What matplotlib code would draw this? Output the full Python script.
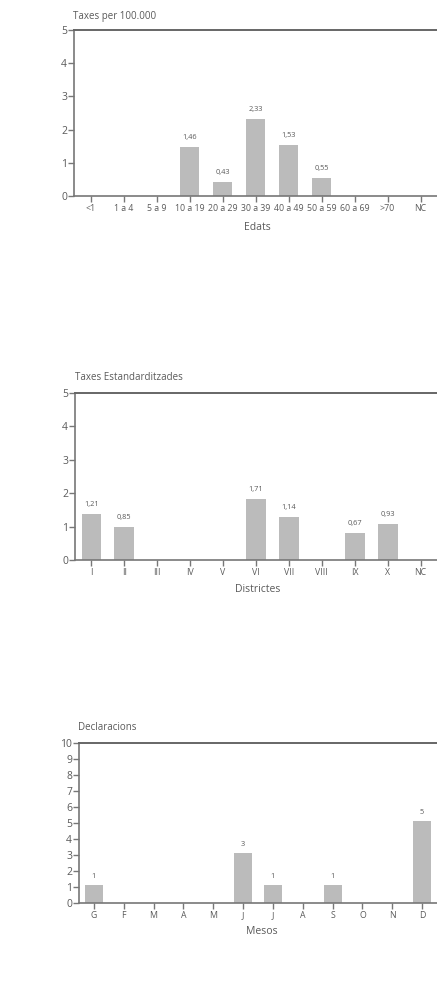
import matplotlib.pyplot as plt
import numpy as np

plt.rcParams['font.family'] = ['Open Sans', 'DejaVu Sans']

edats = ['<1', '1 a 4', '5 a 9', '10 a 19', '20 a 29', '30 a 39', '40 a 49', '50 a 59', '60 a 69', '>70', 'NC']
taxes_edat = [0, 0, 0, 1.47, 0.43, 2.33, 1.53, 0.55, 0, 0, 0]
labels_edat = ['', '', '', '1,46', '0,43', '2,33', '1,53', '0,55', '', '', '']

districtes = ['I', 'II', 'III', 'IV', 'V', 'VI', 'VII', 'VIII', 'IX', 'X', 'NC']
taxes_districte = [1.37, 1.0, 0, 0, 0, 1.83, 1.3, 0, 0.8, 1.07, 0]
labels_districte = ['1,21', '0,85', '', '', '', '1,71', '1,14', '', '0,67', '0,93', '']

mesos = ['G', 'F', 'M', 'A', 'M', 'J', 'J', 'A', 'S', 'O', 'N', 'D']
declaracions = [1.1, 0, 0, 0, 0, 3.1, 1.1, 0, 1.1, 0, 0, 5.1]
labels_mesos = ['1', '', '', '', '', '3', '1', '', '1', '', '', '5']

W, H = 437, 982
BAR = '#bbbbbb'
TXT = '#5a5a5a'

fig = plt.figure(figsize=(W / 100, H / 100), dpi=100)


def panel(left, top, bottom, cats, vals, labels, ymax, title, title_pos, xlabel, xlabel_pos):
    ax = fig.add_axes([left / W, 1 - bottom / H, (W - left) / W, (bottom - top) / H])
    x = np.arange(len(cats))
    ax.bar(x, vals, width=0.6, color=BAR, zorder=2)
    for xx, v, lab in zip(x, vals, labels):
        if lab:
            ax.text(xx, v + ymax * 0.035, lab, ha='center', va='bottom', fontsize=5.3, color=TXT)
    ax.set_xlim(-0.5, len(cats) - 0.5)
    ax.set_ylim(0, ymax)
    ax.set_yticks(range(0, ymax + 1))
    ax.set_xticks(x)
    ax.set_xticklabels(cats)
    ax.spines['right'].set_visible(False)
    ax.spines['top'].set_color('#666666')
    ax.spines['top'].set_linewidth(1.4)
    ax.spines['left'].set_color('#777777')
    ax.spines['left'].set_linewidth(1.2)
    ax.spines['bottom'].set_color('#777777')
    ax.spines['bottom'].set_linewidth(1.2)
    ax.tick_params(axis='y', length=4, width=1, color='#777777', labelsize=7.5, labelcolor=TXT, pad=1)
    ax.tick_params(axis='x', length=4, width=1, color='#777777', labelsize=6.3, labelcolor=TXT, pad=2)
    fig.text(title_pos[0] / W, 1 - title_pos[1] / H, title, fontsize=7, color=TXT, va='center', ha='left')
    fig.text(xlabel_pos[0] / W, 1 - xlabel_pos[1] / H, xlabel, fontsize=7.5, color=TXT, va='center', ha='center')
    return ax


panel(74, 30, 196, edats, taxes_edat, labels_edat, 5,
      'Taxes per 100.000', (73, 16), 'Edats', (257, 227))
panel(75, 393, 560, districtes, taxes_districte, labels_districte, 5,
      'Taxes Estandarditzades', (75, 378), 'Districtes', (258, 590))
panel(79, 743, 903, mesos, declaracions, labels_mesos, 10,
      'Declaracions', (78, 727), 'Mesos', (262, 932))

fig.savefig('out.png', dpi=100)
